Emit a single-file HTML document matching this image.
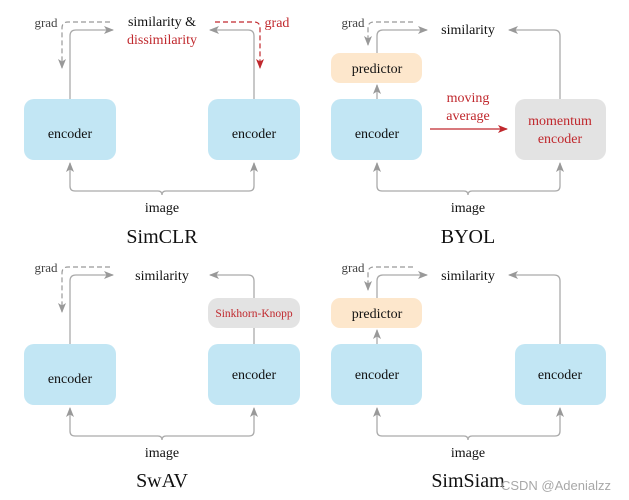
<!DOCTYPE html>
<html><head><meta charset="utf-8"><style>
html,body{margin:0;padding:0;background:#fff;}
svg{display:block;}
text{font-family:"Liberation Serif",serif;}
</style></head><body>
<svg width="629" height="500" viewBox="0 0 629 500" xmlns="http://www.w3.org/2000/svg">
<defs>
<marker id="ag" markerWidth="10" markerHeight="8" refX="9" refY="4" orient="auto" markerUnits="userSpaceOnUse"><path d="M0,0 L10,4 L0,8 L2.5,4 Z" fill="#999"/></marker>
<marker id="ar" markerWidth="10" markerHeight="8" refX="9" refY="4" orient="auto" markerUnits="userSpaceOnUse"><path d="M0,0 L10,4 L0,8 L2.5,4 Z" fill="#c0282d"/></marker>
</defs>
<g fill="none" stroke="#aaa" stroke-width="1.3">
<path d="M70,99 V36 Q70,30 76,30 H113" marker-end="url(#ag)"/>
<path d="M254,99 V36 Q254,30 248,30 H210" marker-end="url(#ag)"/>
<path d="M70,186 V163" marker-end="url(#ag)"/>
<path d="M254,186 V163" marker-end="url(#ag)"/>
<path d="M70,186 Q70,191 75,191 H158 Q162,191 162,195 Q162,191 166,191 H249 Q254,191 254,186"/>
<path d="M377,53 V36 Q377,30 383,30 H427" marker-end="url(#ag)"/>
<path d="M560,99 V36 Q560,30 554,30 H509" marker-end="url(#ag)"/>
<path d="M377,99 V85" marker-end="url(#ag)"/>
<path d="M377,186 V163" marker-end="url(#ag)"/>
<path d="M560,186 V163" marker-end="url(#ag)"/>
<path d="M377,186 Q377,191 382,191 H464 Q468,191 468,195 Q468,191 472,191 H555 Q560,191 560,186"/>
<path d="M70,344 V281 Q70,275 76,275 H113" marker-end="url(#ag)"/>
<path d="M254,298 V281 Q254,275 248,275 H210" marker-end="url(#ag)"/>
<path d="M254,328 V344"/>
<path d="M70,431 V408" marker-end="url(#ag)"/>
<path d="M254,431 V408" marker-end="url(#ag)"/>
<path d="M70,431 Q70,436 75,436 H158 Q162,436 162,440 Q162,436 166,436 H249 Q254,436 254,431"/>
<path d="M377,298 V281 Q377,275 383,275 H427" marker-end="url(#ag)"/>
<path d="M560,344 V281 Q560,275 554,275 H509" marker-end="url(#ag)"/>
<path d="M377,344 V330" marker-end="url(#ag)"/>
<path d="M377,431 V408" marker-end="url(#ag)"/>
<path d="M560,431 V408" marker-end="url(#ag)"/>
<path d="M377,431 Q377,436 382,436 H464 Q468,436 468,440 Q468,436 472,436 H555 Q560,436 560,431"/>
</g>
<g fill="none" stroke="#999" stroke-width="1.2" stroke-dasharray="5,3">
<path d="M110,22 H68 Q62,22 62,28 V68" marker-end="url(#ag)"/>
<path d="M413,22 H374 Q368,22 368,28 V45" marker-end="url(#ag)"/>
<path d="M110,267 H68 Q62,267 62,273 V312" marker-end="url(#ag)"/>
<path d="M413,267 H374 Q368,267 368,273 V290" marker-end="url(#ag)"/>
</g>
<path d="M215,22 H254 Q260,22 260,28 V68" fill="none" stroke="#c0282d" stroke-width="1.2" stroke-dasharray="5,3" marker-end="url(#ar)"/>
<path d="M430,129 H507" stroke="#c0282d" stroke-width="1.2" marker-end="url(#ar)"/>
<g fill="#c2e6f4">
<rect x="24" y="99" width="92" height="61" rx="10"/>
<rect x="208" y="99" width="92" height="61" rx="10"/>
<rect x="331" y="99" width="91" height="61" rx="10"/>
<rect x="24" y="344" width="92" height="61" rx="10"/>
<rect x="208" y="344" width="92" height="61" rx="10"/>
<rect x="331" y="344" width="91" height="61" rx="10"/>
<rect x="515" y="344" width="91" height="61" rx="10"/>
</g>
<g fill="#fde7cc">
<rect x="331" y="53" width="91" height="30" rx="9"/>
<rect x="331" y="298" width="91" height="30" rx="9"/>
</g>
<g fill="#e3e3e3">
<rect x="515" y="99" width="91" height="61" rx="10"/>
<rect x="208" y="298" width="92" height="30" rx="10"/>
</g>
<g font-size="14" fill="#111" text-anchor="middle">
<text x="70" y="138">encoder</text>
<text x="254" y="138">encoder</text>
<text x="377" y="138">encoder</text>
<text x="70" y="383">encoder</text>
<text x="254" y="379">encoder</text>
<text x="377" y="379">encoder</text>
<text x="560" y="379">encoder</text>
<text x="377" y="73">predictor</text>
<text x="377" y="318">predictor</text>
<text x="162" y="26">similarity &amp;</text>
<text x="468" y="34">similarity</text>
<text x="162" y="280">similarity</text>
<text x="468" y="280">similarity</text>
<text x="162" y="212">image</text>
<text x="468" y="212">image</text>
<text x="162" y="457">image</text>
<text x="468" y="457">image</text>
</g>
<g font-size="14" fill="#c0282d" text-anchor="middle">
<text x="162" y="44">dissimilarity</text>
<text x="468" y="102">moving</text>
<text x="468" y="120">average</text>
<text x="560" y="125">momentum</text>
<text x="560" y="143">encoder</text>
<text x="254" y="317" font-size="11.5">Sinkhorn-Knopp</text>
<text x="277" y="27">grad</text>
</g>
<g font-size="13" fill="#444" text-anchor="middle">
<text x="46" y="27">grad</text>
<text x="353" y="27">grad</text>
<text x="46" y="272">grad</text>
<text x="353" y="272">grad</text>
</g>
<g font-size="20" fill="#111" text-anchor="middle">
<text x="162" y="243">SimCLR</text>
<text x="468" y="243">BYOL</text>
<text x="162" y="487">SwAV</text>
<text x="468" y="487">SimSiam</text>
</g>
<text x="556" y="490" style="font-family:'Liberation Sans',sans-serif" font-size="13" fill="#999" fill-opacity="0.85" text-anchor="middle">CSDN @Adenialzz</text>
</svg>
</body></html>
